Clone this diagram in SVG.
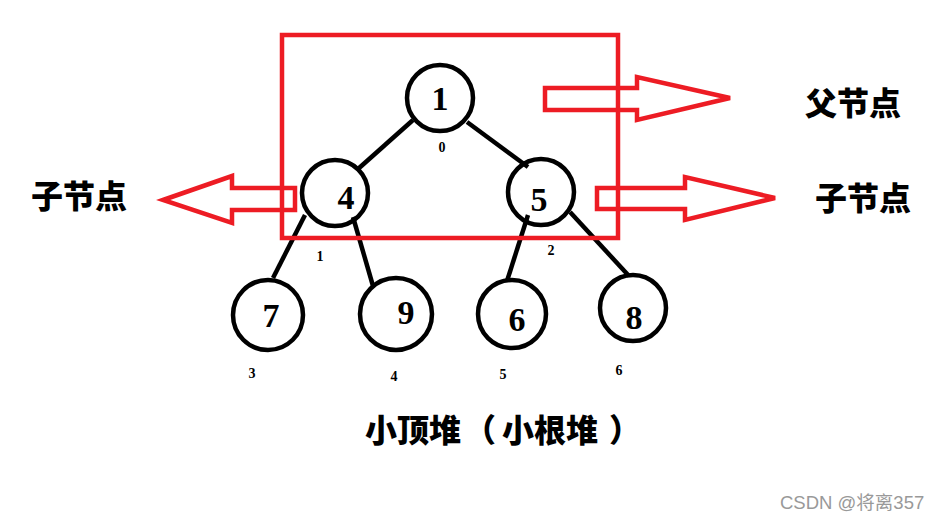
<svg xmlns="http://www.w3.org/2000/svg" width="941" height="523" viewBox="0 0 941 523">
<style>
.node{fill:none;stroke:#000;stroke-width:4.5}
.num{font-family:"Liberation Serif","DejaVu Serif",serif;font-weight:bold;font-size:34px;fill:#000;text-anchor:middle}
.idx{font-family:"Liberation Serif","DejaVu Serif",serif;font-weight:bold;font-size:14px;fill:#000;text-anchor:middle}
.edge{stroke:#000;stroke-width:4.5;fill:none}
.red{fill:none;stroke:#ED1C24;stroke-width:4.5}
.cn{font-family:"Noto Sans CJK SC",sans-serif;font-weight:900;font-size:32px;fill:#000}
</style>
<rect width="941" height="523" fill="#fff"/>
<g id="connectors">
<line class="edge" x1="413" y1="120" x2="358" y2="169"/>
<line class="edge" x1="467" y1="122" x2="528" y2="167"/>
<line class="edge" x1="305" y1="215" x2="273" y2="278"/>
<line class="edge" x1="353" y1="217" x2="373" y2="286"/>
<line class="edge" x1="528" y1="215" x2="507" y2="281"/>
<line class="edge" x1="570" y1="212" x2="629" y2="276"/>
</g>
<g id="frame"><rect class="red" x="282" y="35" width="336" height="203"/></g>
<g id="arrow-left"><polygon class="red" points="163,200 232,176 232,188 295,188 295,210 232,210 232,223"/></g>
<g id="arrow-top"><polygon class="red" points="545,88 637,88 637,77 730,98 637,120 637,110 545,110"/></g>
<g id="arrow-right"><polygon class="red" points="597,188 685,188 685,177 775,198 685,220 685,209 597,209"/></g>
<g id="n1"><circle class="node" cx="440" cy="98" r="33"/><text class="num" x="440" y="110">1</text><text class="idx" x="442" y="152">0</text></g>
<g id="n4"><circle class="node" cx="335" cy="193" r="33"/><text class="num" x="346" y="209">4</text><text class="idx" x="320" y="261">1</text></g>
<g id="n5"><circle class="node" cx="541" cy="192" r="33"/><text class="num" x="539" y="211">5</text><text class="idx" x="551" y="255">2</text></g>
<g id="n7"><circle class="node" cx="268" cy="315" r="35"/><text class="num" x="271" y="327">7</text><text class="idx" x="252" y="378">3</text></g>
<g id="n9"><circle class="node" cx="396" cy="314" r="36"/><text class="num" x="406" y="324">9</text><text class="idx" x="394" y="381">4</text></g>
<g id="n6"><circle class="node" cx="512" cy="314" r="34"/><text class="num" x="517" y="331">6</text><text class="idx" x="503" y="379">5</text></g>
<g id="n8"><circle class="node" cx="633" cy="308" r="33"/><text class="num" x="634" y="329">8</text><text class="idx" x="619" y="375">6</text></g>
<g id="labels">
<text class="cn" x="805" y="115">父节点</text>
<text class="cn" x="31" y="208">子节点</text>
<text class="cn" x="815" y="210">子节点</text>
<text class="cn" y="442"><tspan x="365">小顶堆</tspan><tspan x="464">（</tspan><tspan x="502">小根堆</tspan><tspan x="609">）</tspan></text>
<text x="780" y="509" font-family="Liberation Sans,'Noto Sans CJK SC',sans-serif" font-size="18.5" fill="#999">CSDN @将离357</text>
</g>
</svg>
